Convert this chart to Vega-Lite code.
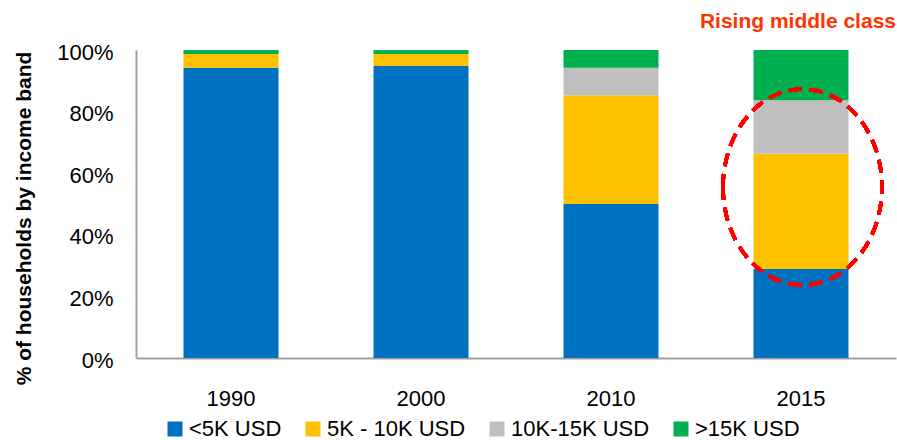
{
  "$schema": "https://vega.github.io/schema/vega-lite/v6.json",
  "width": 760,
  "height": 308,
  "autosize": {"type": "none"},
  "padding": {"left": 136, "top": 50, "right": 1, "bottom": 82},
  "background": "white",
  "config": {
    "view": {"stroke": null},
    "font": "Liberation Sans"
  },
  "title": {
    "text": "Rising middle class",
    "anchor": "end",
    "frame": "group",
    "orient": "top",
    "baseline": "alphabetic",
    "offset": -8,
    "color": "#FF3300",
    "font": "Liberation Sans",
    "fontSize": 21,
    "fontWeight": "bold"
  },
  "data": {
    "values": [
      {"year": "1990", "band": "<5K USD", "share": 0.942},
      {"year": "1990", "band": "5K - 10K USD", "share": 0.045},
      {"year": "1990", "band": "10K-15K USD", "share": 0.0},
      {"year": "1990", "band": ">15K USD", "share": 0.013},
      {"year": "2000", "band": "<5K USD", "share": 0.948},
      {"year": "2000", "band": "5K - 10K USD", "share": 0.039},
      {"year": "2000", "band": "10K-15K USD", "share": 0.0},
      {"year": "2000", "band": ">15K USD", "share": 0.013},
      {"year": "2010", "band": "<5K USD", "share": 0.5},
      {"year": "2010", "band": "5K - 10K USD", "share": 0.352},
      {"year": "2010", "band": "10K-15K USD", "share": 0.09},
      {"year": "2010", "band": ">15K USD", "share": 0.058},
      {"year": "2015", "band": "<5K USD", "share": 0.289},
      {"year": "2015", "band": "5K - 10K USD", "share": 0.374},
      {"year": "2015", "band": "10K-15K USD", "share": 0.174},
      {"year": "2015", "band": ">15K USD", "share": 0.163}
    ]
  },
  "layer": [
    {
      "transform": [
        {"calculate": "indexof(['<5K USD', '5K - 10K USD', '10K-15K USD', '>15K USD'], datum.band)", "as": "bandRank"}
      ],
      "mark": {"type": "bar"},
      "encoding": {
        "x": {
          "field": "year",
          "type": "nominal",
          "scale": {"paddingInner": 0.5, "paddingOuter": 0.25},
          "axis": {
            "title": null,
            "labelAngle": 0,
            "ticks": false,
            "labelPadding": 30,
            "labelFontSize": 22,
            "labelColor": "#000000",
            "labelFont": "Liberation Sans",
            "domainColor": "#A0A0A0",
            "domainWidth": 2
          }
        },
        "y": {
          "field": "share",
          "type": "quantitative",
          "stack": "zero",
          "scale": {"domain": [0, 1], "nice": false},
          "axis": {
            "title": "% of households by income band",
            "values": [0, 0.2, 0.4, 0.6, 0.8, 1],
            "format": ".0%",
            "grid": false,
            "ticks": false,
            "labelPadding": 23,
            "labelOffset": 2,
            "labelFontSize": 22,
            "labelColor": "#000000",
            "labelFont": "Liberation Sans",
            "domainColor": "#A0A0A0",
            "domainWidth": 2,
            "titleFont": "Liberation Sans",
            "titleFontSize": 21,
            "titleFontWeight": "bold",
            "titleColor": "#000000",
            "titleAngle": -90,
            "titleBaseline": "alphabetic",
            "titleAlign": "center",
            "titleX": -106,
            "titleY": 168
          }
        },
        "color": {
          "field": "band",
          "type": "nominal",
          "sort": ["<5K USD", "5K - 10K USD", "10K-15K USD", ">15K USD"],
          "scale": {
            "domain": ["<5K USD", "5K - 10K USD", "10K-15K USD", ">15K USD"],
            "range": ["#0070C0", "#FFC000", "#BFBFBF", "#00B050"]
          },
          "legend": {
            "title": null,
            "orient": "none",
            "direction": "horizontal",
            "legendX": 28,
            "legendY": 368,
            "padding": 0,
            "symbolType": "square",
            "symbolSize": 225,
            "symbolStrokeWidth": 0,
            "symbolOpacity": 1,
            "labelFont": "Liberation Sans",
            "labelFontSize": 22,
            "labelColor": "#000000",
            "labelOffset": 3,
            "columnPadding": 20,
            "labelLimit": 300
          }
        },
        "order": {"field": "bandRank", "type": "quantitative", "sort": "ascending"}
      }
    },
    {
      "mark": {
        "type": "point",
        "shape": "M -0.811 0 A 0.811 1 0 1 1 0.811 0 A 0.811 1 0 1 1 -0.811 0 Z",
        "filled": false,
        "stroke": "#FF0000",
        "strokeWidth": 3.5,
        "strokeDash": [13, 8],
        "opacity": 1,
        "size": 38416,
        "xOffset": 1.5
      },
      "encoding": {
        "x": {"datum": "2015", "type": "nominal"},
        "y": {"datum": 0.555, "type": "quantitative"}
      }
    }
  ]
}
